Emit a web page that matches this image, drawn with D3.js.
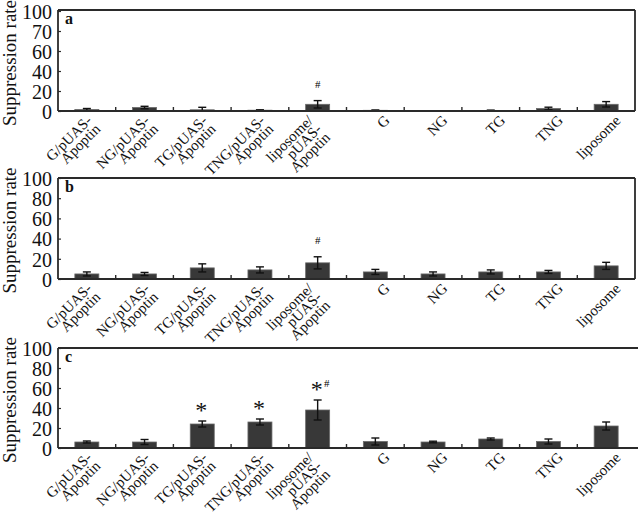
<!DOCTYPE html>
<html>
<head>
<meta charset="utf-8">
<script src="https://cdn.jsdelivr.net/npm/d3@7"></script>
<style>
  body { margin: 0; background: #fff; }
  svg { display: block; }
  text { font-family: "Liberation Serif", "Times New Roman", serif; }
</style>
</head>
<body>
<svg id="chart" width="638" height="512"></svg>
<script>
// categories, with the line breaks used under the x axis
var categories = ["G/pUAS-Apoptin", "NG/pUAS-Apoptin", "TG/pUAS-Apoptin", "TNG/pUAS-Apoptin",
                  "liposome/pUAS-Apoptin", "G", "NG", "TG", "TNG", "liposome"];
var labelLines = [["G/pUAS-", "Apoptin"], ["NG/pUAS-", "Apoptin"], ["TG/pUAS-", "Apoptin"],
                  ["TNG/pUAS-", "Apoptin"], ["liposome/", "pUAS-", "Apoptin"],
                  ["G"], ["NG"], ["TG"], ["TNG"], ["liposome"]];

// suppression rate (mean) and error per panel
var valuesA = [1.5, 3.5, 1.2, 0.8, 6.7, 0.7, 0, 0.6, 2.5, 6.7];
var errorsA = [1, 1.2, 2.5, 0.4, 3.7, 0.3, 0, 0.3, 1.3, 2.7];
var valuesB = [5, 5, 11, 9, 16, 7, 5, 7, 7, 13];
var errorsB = [2, 1.5, 4, 3, 6, 2.5, 2, 2, 1.5, 3.5];
var valuesC = [6, 6, 24, 26, 38, 6.5, 6, 9, 6.5, 22];
var errorsC = [1, 2.5, 3, 3, 10, 3.5, 0.8, 1, 2.5, 4];

// significance marks: [category index, star, hash]
var marksA = [[4, "", "#"]];
var marksB = [[4, "", "#"]];
var marksC = [[2, "*", ""], [3, "*", ""], [4, "*", "#"]];

// y ticks (panel a's figure prints "70" at the 80 position)
var yTickValues = [0, 20, 40, 60, 80, 100];
var yTickLabelsA = ["0", "20", "40", "60", "70", "100"];
var yTickLabelsBC = ["0", "20", "40", "60", "80", "100"];

var panels = [
  {letter: "a", values: valuesA, errors: errorsA, marks: marksA, ticks: yTickLabelsA, top: 11, bottom: 111, frameTop: 10, rightBorder: true},
  {letter: "b", values: valuesB, errors: errorsB, marks: marksB, ticks: yTickLabelsBC, top: 178, bottom: 279, frameTop: 178, rightBorder: true},
  {letter: "c", values: valuesC, errors: errorsC, marks: marksC, ticks: yTickLabelsBC, top: 348, bottom: 448, frameTop: 348, rightBorder: false}
];

var svg = d3.select("#chart");
var left = 58, right = 635;
var ink = "#2a2a2a";

var x = d3.scaleBand().domain(categories).range([left, right]).paddingInner(0).paddingOuter(0);
var barW = 24;

panels.forEach(function(p) {
  var y = d3.scaleLinear().domain([0, 100]).range([p.bottom, p.top]);
  var g = svg.append("g");
  var rows = categories.map(function(c, i) {
    return {cat: c, v: p.values[i], e: p.errors[i], cx: x(c) + x.bandwidth() / 2};
  });

  // bars
  g.selectAll("rect.bar")
    .data(rows)
    .enter()
    .append("rect")
    .attr("class", "bar")
    .attr("x", d => d.cx - barW / 2)
    .attr("y", d => y(d.v))
    .attr("width", barW)
    .attr("height", d => y(0) - y(d.v))
    .attr("fill", "#383838")
    .attr("stroke", "#6a6a6a")
    .attr("stroke-width", 0.8);

  // error bars
  var eb = g.selectAll("g.err")
    .data(rows.filter(d => d.e > 0))
    .enter()
    .append("g")
    .attr("class", "err")
    .attr("stroke", "#111")
    .attr("stroke-width", 1.4);
  eb.append("line")
    .attr("x1", d => d.cx).attr("x2", d => d.cx)
    .attr("y1", d => y(d.v + d.e))
    .attr("y2", d => y(Math.max(0, d.v - d.e)));
  eb.append("line")
    .attr("x1", d => d.cx - 4).attr("x2", d => d.cx + 4)
    .attr("y1", d => y(d.v + d.e)).attr("y2", d => y(d.v + d.e));
  eb.append("line")
    .attr("x1", d => d.cx - 4).attr("x2", d => d.cx + 4)
    .attr("y1", d => y(Math.max(0, d.v - d.e))).attr("y2", d => y(Math.max(0, d.v - d.e)));

  // frame
  var frame = g.append("g").attr("stroke", ink).attr("stroke-width", 1.8).attr("fill", "none");
  frame.append("line").attr("x1", left).attr("x2", left).attr("y1", p.frameTop).attr("y2", p.bottom);
  frame.append("line").attr("x1", left).attr("x2", p.rightBorder ? right : 638).attr("y1", p.frameTop).attr("y2", p.frameTop);
  frame.append("line").attr("x1", left).attr("x2", p.rightBorder ? right : 638).attr("y1", p.bottom).attr("y2", p.bottom);
  if (p.rightBorder) {
    frame.append("line").attr("x1", right).attr("x2", right).attr("y1", p.frameTop).attr("y2", p.bottom);
  }

  // y axis
  var yAxis = g.append("g")
    .attr("transform", "translate(" + left + ",0)")
    .call(d3.axisLeft(y).tickValues(yTickValues).tickSize(-3).tickPadding(6)
      .tickFormat(function(d, i) { return p.ticks[i]; }));
  yAxis.select(".domain").remove();
  yAxis.selectAll(".tick line").attr("stroke", ink).attr("stroke-width", 1.2);
  yAxis.selectAll(".tick text")
    .attr("fill", "#111")
    .style("font-size", "20px")
    .style("font-family", "'Liberation Serif', 'Times New Roman', serif")
    .attr("dy", "0.36em");

  // x boundary ticks
  g.selectAll("line.xtick")
    .data(categories.slice(1))
    .enter()
    .append("line")
    .attr("class", "xtick")
    .attr("x1", d => x(d))
    .attr("x2", d => x(d))
    .attr("y1", p.bottom)
    .attr("y2", p.bottom - 4)
    .attr("stroke", ink)
    .attr("stroke-width", 1.4);

  // x labels
  rows.forEach(function(d, i) {
    var lines = labelLines[i];
    var n = lines.length;
    var ax = d.cx + 8 - (n - 1) * 9.5;
    var ay = p.bottom + 3;
    var t = g.append("text")
      .attr("transform", "translate(" + ax + "," + ay + ") rotate(-45)")
      .attr("text-anchor", "end")
      .attr("fill", "#111")
      .style("font-size", "15px");
    lines.forEach(function(line, k) {
      t.append("tspan")
        .attr("x", 0)
        .attr("y", 0)
        .attr("dy", (0.7 + k * 0.8) + "em")
        .text(line);
    });
  });

  // panel letter
  g.append("text")
    .attr("x", left + 7)
    .attr("y", p.frameTop + 14)
    .attr("font-weight", "bold")
    .attr("fill", "#111")
    .style("font-size", "16px")
    .text(p.letter);

  // significance marks
  p.marks.forEach(function(m) {
    var d = rows[m[0]];
    var topY = y(d.v + d.e);
    if (m[1]) {
      g.append("text")
        .attr("x", d.cx - 1)
        .attr("y", topY - 3)
        .attr("text-anchor", "middle")
        .attr("fill", "#111")
        .style("font-size", "24px")
        .text(m[1]);
    }
    if (m[2]) {
      g.append("text")
        .attr("x", m[1] ? d.cx + 9 : d.cx)
        .attr("y", topY - 13)
        .attr("text-anchor", "middle")
        .attr("fill", "#000")
        .style("font-size", "11px")
        .text(m[2]);
    }
  });

  // y title
  g.append("text")
    .attr("transform", "translate(16," + ((p.top + p.bottom) / 2 + 2) + ") rotate(-90)")
    .attr("text-anchor", "middle")
    .attr("fill", "#111")
    .style("font-size", "19px")
    .text("Suppression rate");
});
</script>
</body>
</html>
